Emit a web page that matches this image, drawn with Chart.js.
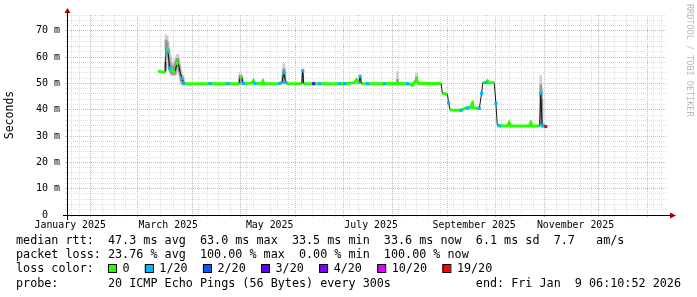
<!DOCTYPE html>
<html>
<head>
<meta charset="utf-8">
<title>smokeping</title>
<script src="https://cdn.jsdelivr.net/npm/chart.js@4.4.1/dist/chart.umd.min.js"></script>
<style>
    html, body { margin: 0; padding: 0; background: #fff; }
    #wrap { width: 697px; height: 297px; }
</style>
</head>
<body>
<div id="wrap"><canvas id="pingChart" width="697" height="297"></canvas></div>
<script>
// 时间轴（自 2025-01-01 起的天数）
const axisStartDay = 13.1;
const axisEndDay = 374.0;
const monthStartDays = [31, 59, 90, 120, 151, 181, 212, 243, 273, 304, 334, 365];
const monthLabelDays = [0, 59, 120, 181, 243, 304];
const monthLabels = ['January 2025', 'March 2025', 'May 2025', 'July 2025', 'September 2025', 'November 2025'];

// 纵轴刻度
const yMax = 76;
const yMinorStep = 2;
const yLabelValues = [0, 10, 20, 30, 40, 50, 60, 70];

// 中位数 RTT（毫秒）与丢包数（每 20 个包）
const medianDays = [
    67.9, 69.1, 70.9, 72.1, 72.7, 73.3, 73.9, 74.8, 75.7, 76.9, 78.1, 79.0, 79.9, 81.1, 82.3, 83.2, 84.1,
    99.1, 109.9, 116.5, 117.1, 118.3, 119.2, 120.1, 124.3, 125.2, 126.1, 130.3, 130.9, 131.5,
    141.1, 142.3, 143.5, 144.7, 145.9, 154.3, 154.9, 155.5, 161.5, 165.1,
    177.1, 180.1, 186.1, 187.3, 188.5, 189.4, 190.3, 193.9, 204.1, 211.9, 217.9,
    220.3, 220.9, 222.1, 223.3, 224.5, 238.1,
    238.9, 241.9, 242.6, 243.4, 244.3, 250.1, 250.9, 252.7, 254.0, 255.7, 256.9, 257.5, 259.9, 261.1,
    262.5, 263.2, 265.1, 266.1, 267.1, 270.1, 271.1, 271.9, 273.1, 277.9, 279.1, 280.0,
    291.1, 292.1, 292.9, 297.4, 298.1, 298.9, 299.8, 301.1
];
const medianMs = [
    54.8, 54.4, 54.3, 54.2, 63.0, 62.8, 62.0, 55.8, 55.0, 54.7, 54.6, 57.0, 58.3, 54.3, 51.9, 50.2, 49.9,
    49.9, 49.9, 49.9, 52.3, 52.0, 50.0, 49.9, 50.2, 51.0, 50.0, 50.0, 50.8, 49.9,
    50.0, 50.3, 54.0, 50.4, 49.9, 49.9, 54.8, 49.9, 49.9, 49.9,
    49.9, 49.9, 50.3, 51.3, 50.0, 52.5, 49.9, 49.9, 49.9, 50.0, 49.9,
    49.6, 49.3, 50.5, 51.3, 50.0, 50.0,
    46.2, 46.0, 42.7, 40.3, 39.9, 39.8, 40.0, 40.5, 40.7, 40.8, 42.3, 40.8, 40.6, 40.5,
    46.2, 50.3, 50.3, 50.9, 50.3, 50.3, 42.4, 34.2, 33.9, 33.8, 35.1, 33.8,
    33.8, 35.1, 33.8, 33.8, 46.2, 33.9, 33.9, 33.6
];
const lossCount = [
    0, 0, 0, 0, 0, 0, 1, 1, 0, 0, 0, 0, 0, 0, 1, 1, 0,
    1, 1, 0, 0, 0, 1, 0, 0, 0, 1, 0, 0, 0,
    1, 0, 1, 1, 0, 0, 1, 0, 3, 1,
    1, 1, 0, 0, 0, 1, 0, 1, 1, 0, 1,
    0, 0, 0, 0, 0, 0,
    0, 0, 1, 0, 0, 1, 0, 0, 1, 0, 0, 0, 0, 1,
    1, 0, 1, 0, 0, 0, 1, 0, 1, 0, 0, 0,
    0, 0, 0, 0, 1, 1, 1, 19
];

// 烟雾（RTT 分布范围）
const smokeDays = [
    72.4, 72.7, 73.3, 73.9, 74.5, 75.1, 75.7, 76.3, 76.9, 77.5, 78.1, 78.7, 79.3, 79.9, 80.5, 81.1, 81.7, 82.3, 82.9,
    117.1, 117.7, 118.3, 143.0, 143.5, 144.1, 154.9, 189.4, 211.9, 223.3, 256.9, 298.1, 298.7
];
const smokeOuterLow = [
    54.5, 62.5, 62.0, 59.0, 55.5, 54.0, 53.5, 53.0, 53.0, 53.0, 53.0, 54.0, 55.0, 55.5, 53.5, 52.0, 50.5, 49.5, 49.3,
    49.5, 49.5, 49.5, 50.0, 50.0, 50.0, 50.0, 50.0, 50.0, 50.0, 40.5, 34.0, 34.0
];
const smokeOuterHigh = [
    60.0, 68.5, 68.0, 66.0, 63.0, 61.0, 59.5, 58.0, 57.5, 58.0, 59.0, 60.0, 61.0, 61.0, 59.0, 56.5, 54.5, 53.5, 52.5,
    54.0, 53.5, 53.0, 55.0, 57.5, 56.0, 55.5, 53.5, 54.5, 54.0, 43.2, 53.0, 48.0
];
const smokeInnerLow = [
    55.0, 63.0, 62.5, 60.0, 56.0, 54.5, 54.0, 53.5, 53.5, 53.5, 53.5, 55.0, 56.0, 56.5, 54.5, 53.0, 51.0, 50.0, 49.6,
    50.0, 50.0, 50.0, 50.0, 50.5, 50.0, 50.0, 50.0, 50.0, 50.5, 41.0, 34.5, 34.5
];
const smokeInnerHigh = [
    58.0, 66.5, 65.5, 63.5, 60.0, 58.0, 57.0, 56.5, 56.0, 56.5, 57.5, 58.5, 59.5, 59.5, 57.5, 55.5, 53.0, 52.5, 51.5,
    53.0, 52.5, 52.5, 53.0, 55.5, 54.0, 54.0, 52.5, 51.5, 52.5, 42.5, 49.5, 44.0
];

// 丢包颜色图例
const lossLevels = [0, 1, 2, 3, 4, 10, 19];
const lossLabels = ['0', '1/20', '2/20', '3/20', '4/20', '10/20', '19/20'];
const lossColors = ['#26ff00', '#00b8ff', '#0059ff', '#5e00ff', '#7e00ff', '#dd00ff', '#ff0000'];

// 统计文字
const statLines = [
    'median rtt:  47.3 ms avg  63.0 ms max  33.5 ms min  33.6 ms now  6.1 ms sd  7.7   am/s',
    'packet loss: 23.76 % avg  100.00 % max  0.00 % min  100.00 % now'
];
const probeText = 'probe:       20 ICMP Echo Pings (56 Bytes) every 300s';
const endText = 'end: Fri Jan  9 06:10:52 2026';

const monoFont = '"DejaVu Sans Mono", "Liberation Mono", monospace';
const majorGridColor = '#f2a8a8';
const minorGridColor = '#dcdcdc';

// 根据丢包数取颜色
function lossColor(count) {
    let idx = 0;
    lossLevels.forEach((lv, i) => { if (count >= lv) idx = i; });
    return lossColors[idx];
}

// 生成横轴刻度：每周细线、每月粗线、月中标签
function buildXTicks() {
    const ticks = [];
    for (let d = 3; d <= axisEndDay; d += 7) {
        if (d >= axisStartDay && !monthStartDays.includes(d)) ticks.push({ value: d, kind: 'minor' });
    }
    monthStartDays.forEach(d => ticks.push({ value: d, kind: 'major' }));
    monthLabelDays.forEach((d, i) => ticks.push({ value: d + 15, kind: 'label', text: monthLabels[i] }));
    return ticks.sort((a, b) => a.value - b.value);
}

function buildYTicks() {
    const ticks = [];
    for (let v = 0; v <= yMax; v += yMinorStep) ticks.push({ value: v });
    return ticks;
}

// 坐标轴与箭头
const axisPlugin = {
    id: 'rrdAxis',
    afterDatasetsDraw(chart) {
        const { ctx, chartArea: { left, right, top, bottom } } = chart;
        ctx.save();
        ctx.strokeStyle = '#000';
        ctx.lineWidth = 1;
        ctx.beginPath();
        ctx.moveTo(left - 4, bottom + 0.5);
        ctx.lineTo(right + 4, bottom + 0.5);
        ctx.moveTo(left + 0.5, bottom + 5);
        ctx.lineTo(left + 0.5, top - 3);
        ctx.stroke();
        ctx.fillStyle = '#a00000';
        ctx.beginPath();
        ctx.moveTo(right + 9, bottom + 0.5);
        ctx.lineTo(right + 3, bottom - 2.5);
        ctx.lineTo(right + 3, bottom + 3.5);
        ctx.closePath();
        ctx.fill();
        ctx.beginPath();
        ctx.moveTo(left + 0.5, top - 7);
        ctx.lineTo(left - 2.5, top - 2);
        ctx.lineTo(left + 3.5, top - 2);
        ctx.closePath();
        ctx.fill();
        ctx.restore();
    }
};

// 底部统计与图例文字
const legendPlugin = {
    id: 'rrdLegend',
    afterDraw(chart) {
        const ctx = chart.ctx;
        const x0 = 16;
        ctx.save();
        ctx.font = '11.75px ' + monoFont;
        ctx.fillStyle = '#000';
        ctx.textBaseline = 'middle';
        ctx.textAlign = 'left';
        const cw = ctx.measureText('M').width;
        ctx.fillText(statLines[0], x0, 241);
        ctx.fillText(statLines[1], x0, 255.3);
        ctx.fillText('loss color:', x0, 269.4);
        let x = x0 + 13 * cw;
        lossLabels.forEach((label, i) => {
            ctx.fillStyle = lossColors[i];
            ctx.fillRect(x, 264.5, 8, 8);
            ctx.strokeStyle = '#000';
            ctx.lineWidth = 1;
            ctx.strokeRect(x + 0.5, 264.5, 8, 8);
            ctx.fillStyle = '#000';
            ctx.fillText(label, x + 14.5, 269.4);
            x += 14.5 + ctx.measureText(label).width + 15.3;
        });
        ctx.fillText(probeText, x0, 283.5);
        ctx.fillText(endText, x0 + 65 * cw, 283.5);

        // 右侧竖排署名
        ctx.translate(689, 4);
        ctx.rotate(Math.PI / 2);
        ctx.font = '8.5px ' + monoFont;
        ctx.fillStyle = '#b8b8b8';
        ctx.fillText('RRDTOOL / TOBI OETIKER', 0, 0);
        ctx.restore();
    }
};

// 线段颜色：跳变处只留细黑线，长平段用 0 丢包色
function segmentColor(ctx) {
    const i0 = ctx.p0DataIndex, i1 = ctx.p1DataIndex;
    if (Math.abs(medianMs[i1] - medianMs[i0]) > 1.5) return 'rgba(0,0,0,0)';
    if (medianDays[i1] - medianDays[i0] > 1.2) return lossColors[0];
    return lossColor(Math.min(lossCount[i0], lossCount[i1]));
}

function initializeChart() {
    const canvas = document.getElementById('pingChart');
    const medianPoints = medianDays.map((d, i) => ({ x: d, y: medianMs[i] }));

    new Chart(canvas.getContext('2d'), {
        type: 'line',
        data: {
            datasets: [
                {
                    // 按丢包着色的中位数
                    data: medianPoints,
                    borderWidth: 3,
                    borderColor: lossColors[0],
                    tension: 0,
                    borderCapStyle: 'butt',
                    segment: { borderColor: segmentColor },
                    pointStyle: 'rect',
                    pointRadius: c => lossCount[c.dataIndex] > 0 ? 2.2 : 0,
                    pointBackgroundColor: c => lossColor(lossCount[c.dataIndex]),
                    pointBorderWidth: 0
                },
                {
                    // 细黑中位线
                    data: medianPoints,
                    borderWidth: 1,
                    borderColor: '#151515',
                    tension: 0,
                    pointRadius: 0
                },
                {
                    type: 'bar',
                    data: smokeDays.map((d, i) => ({ x: d, y: [smokeInnerLow[i], smokeInnerHigh[i]] })),
                    backgroundColor: '#959595',
                    barThickness: 2,
                    grouped: false,
                    borderWidth: 0
                },
                {
                    type: 'bar',
                    data: smokeDays.map((d, i) => ({ x: d, y: [smokeOuterLow[i], smokeOuterHigh[i]] })),
                    backgroundColor: '#cdcdcd',
                    barThickness: 2,
                    grouped: false,
                    borderWidth: 0
                }
            ]
        },
        options: {
            responsive: false,
            animation: false,
            devicePixelRatio: 1,
            events: [],
            layout: { padding: { left: 0, right: 30, top: 15, bottom: 0 } },
            plugins: {
                legend: { display: false },
                tooltip: { enabled: false }
            },
            scales: {
                x: {
                    type: 'linear',
                    min: axisStartDay,
                    max: axisEndDay,
                    offset: false,
                    afterFit(s) { s.height = 82; },
                    afterBuildTicks(s) { s.ticks = buildXTicks(); },
                    grid: {
                        color: c => c.tick && c.tick.kind === 'major' ? majorGridColor : minorGridColor,
                        lineWidth: c => c.tick && c.tick.kind === 'label' ? 0 : 1,
                        tickLength: 2,
                        tickWidth: c => c.tick && c.tick.kind === 'label' ? 0 : 1,
                        tickColor: c => c.tick && c.tick.kind === 'major' ? majorGridColor : minorGridColor,
                        tickBorderDash: []
                    },
                    border: { display: false, dash: [1, 1] },
                    ticks: {
                        autoSkip: false,
                        maxRotation: 0,
                        minRotation: 0,
                        padding: 2,
                        color: '#000',
                        font: { family: monoFont, size: 9.9 },
                        callback: (v, i, ticks) => ticks[i].text || ''
                    }
                },
                y: {
                    min: 0,
                    max: yMax,
                    afterFit(s) { s.width = 67; },
                    afterBuildTicks(s) { s.ticks = buildYTicks(); },
                    grid: {
                        color: c => c.tick && c.tick.value % 10 === 0 ? majorGridColor : minorGridColor,
                        tickLength: 2,
                        tickColor: c => c.tick && c.tick.value % 10 === 0 ? majorGridColor : minorGridColor,
                        tickBorderDash: []
                    },
                    border: { display: false, dash: [1, 1] },
                    ticks: {
                        autoSkip: false,
                        padding: 5,
                        color: '#000',
                        font: { family: monoFont, size: 10 },
                        callback: v => yLabelValues.includes(v) ? (v === 0 ? '0  ' : v + ' m') : ''
                    },
                    title: {
                        display: true,
                        text: 'Seconds',
                        color: '#000',
                        font: { family: monoFont, size: 11.5 },
                        padding: { top: 3, bottom: 0 }
                    }
                }
            }
        },
        plugins: [axisPlugin, legendPlugin]
    });
}

document.addEventListener('DOMContentLoaded', initializeChart);
</script>
</body>
</html>
